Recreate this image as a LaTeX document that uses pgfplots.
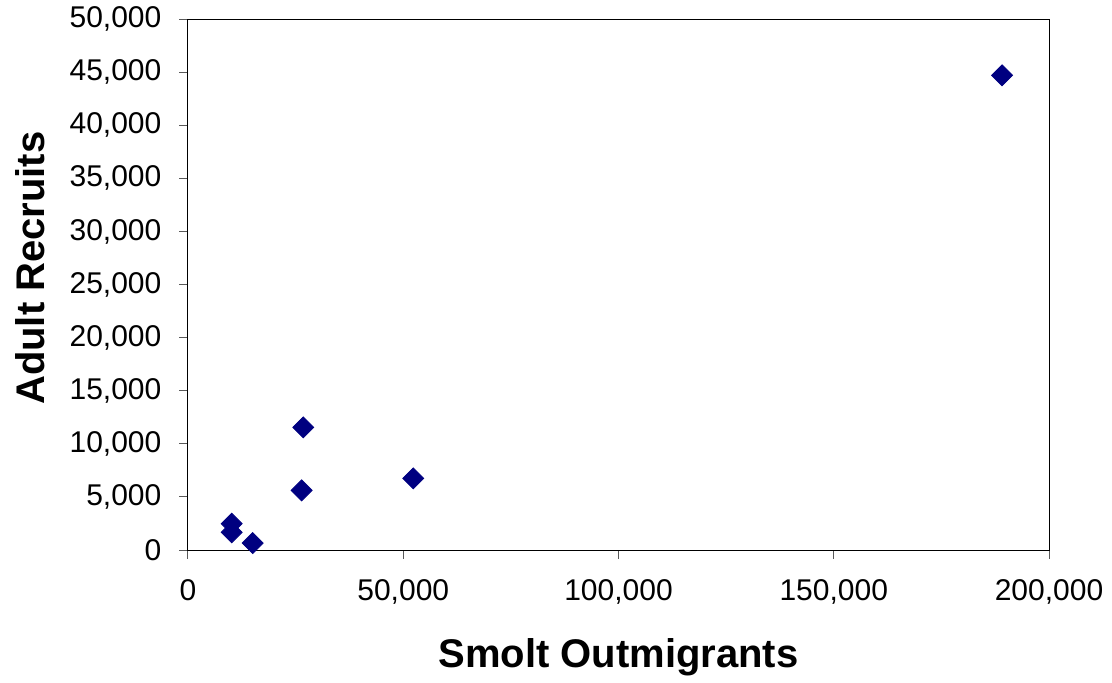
\documentclass[border=0pt]{standalone}
\usepackage{pgfplots}
\pgfplotsset{compat=1.18}
\usepackage{fontspec}
\setmainfont{Liberation Sans}
\definecolor{navymark}{RGB}{0,0,128}

\begin{document}
\begin{tikzpicture}
\begin{axis}[
	at={(0,0)}, anchor=south west,
	scale only axis,
	width=430.5pt, height=265.5pt,
	xmin=0, xmax=200000,
	ymin=0, ymax=50000,
	scaled ticks=false,
	xtick={0,50000,100000,150000,200000},
	xticklabels={0,{50,000},{100,000},{150,000},{200,000}},
	ytick={0,5000,10000,15000,20000,25000,30000,35000,40000,45000,50000},
	yticklabels={0,{5,000},{10,000},{15,000},{20,000},{25,000},{30,000},{35,000},{40,000},{45,000},{50,000}},
	tick label style={font=\fontsize{15}{18}\selectfont},
	xticklabel style={yshift=-7pt},
	yticklabel style={xshift=-5.5pt},
	tick align=outside,
	tick pos=left,
	major tick length=4.3pt,
	axis line style={line width=0.5pt},
	major tick style={line width=0.5pt, black!65},
	xlabel={Smolt Outmigrants},
	ylabel={Adult Recruits},
	label style={font=\fontsize{20}{24}\selectfont\bfseries},
	xlabel style={at={(axis description cs:0.5,-0.2015)}, anchor=center},
	ylabel style={at={(axis description cs:-0.1835,0.531)}, anchor=center},
]
\addplot[only marks, mark=square*, mark size=3.7pt,
	mark options={rotate=45, fill=navymark, draw=navymark}]
	coordinates {
	(10150, 2480)
	(10150, 1670)
	(15030, 660)
	(26400, 5620)
	(26780, 11550)
	(52320, 6750)
	(189100, 44700)
};
\end{axis}
\path[use as bounding box] (-94pt,-65pt) rectangle (462pt,273.5pt);
\end{tikzpicture}
\end{document}
